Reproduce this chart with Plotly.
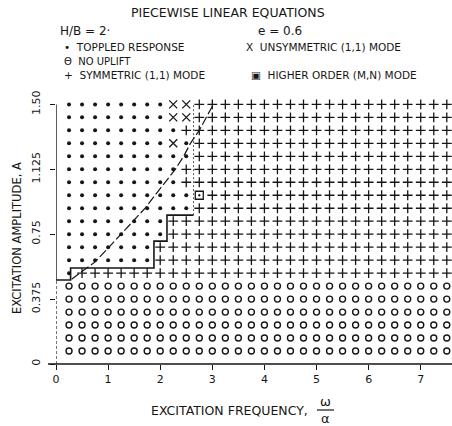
import plotly.graph_objects as go

# ---------------- data ----------------
frequencies = [0.25 * i for i in range(1, 31)]          # 0.25 ... 7.5
amplitudes = [round(0.075 * j, 3) for j in range(1, 21)]  # 0.075 ... 1.5

no_uplift_max_amp = 0.45  # rows at or below: no uplift

# rows above the no-uplift band: last frequency of toppled response
toppled_rows = [0.525, 0.6, 0.675, 0.75, 0.825, 0.9, 0.975, 1.05, 1.125, 1.2, 1.275, 1.35, 1.425, 1.5]
toppled_last = [0.25, 1.75, 1.75, 2.0, 2.0, 2.5, 2.5, 2.25, 2.25, 2.5, 2.5, 2.25, 2.0, 2.0]

unsym_freq = [2.25, 2.25, 2.5, 2.25, 2.5]
unsym_amp = [1.275, 1.425, 1.425, 1.5, 1.5]

higher_freq = [2.75]
higher_amp = [0.975]

# boundary curves
stair_freq = [0.0, 0.28, 0.28, 1.88, 1.88, 2.13, 2.13, 2.64]
stair_amp = [0.485, 0.485, 0.555, 0.555, 0.71, 0.71, 0.86, 0.86]
dotted_freq = [2.64, 2.64]
dotted_amp = [0.86, 1.5]
lower_axis_amp = [0.0, 0.485]
diag_freq = [0.3, 0.75, 1.0, 1.4, 1.71, 1.9, 2.1, 2.29, 2.45, 2.58, 2.75, 2.88, 3.02]
diag_amp = [0.49, 0.59, 0.67, 0.80, 0.90, 0.975, 1.05, 1.125, 1.2, 1.275, 1.35, 1.425, 1.5]

x_tick_vals = [0, 1, 2, 3, 4, 5, 6, 7]
x_tick_text = ["0", "1", "2", "3", "4", "5", "6", "7"]
y_tick_vals = [0, 0.375, 0.75, 1.125, 1.5]
y_tick_text = ["0", "0.375", "0.75", "1.125", "1.50"]

# ---------------- classify grid ----------------
special = set(zip(unsym_freq, unsym_amp)) | set(zip(higher_freq, higher_amp))
top_f, top_a, nu_f, nu_a, sym_f, sym_a = [], [], [], [], [], []
for a in amplitudes:
    for f in frequencies:
        if (f, a) in special:
            continue
        if a <= no_uplift_max_amp + 1e-9:
            nu_f.append(f); nu_a.append(a)
            continue
        idx = min(range(len(toppled_rows)), key=lambda k: abs(toppled_rows[k] - a))
        if f <= toppled_last[idx] + 1e-9:
            top_f.append(f); top_a.append(a)
        else:
            sym_f.append(f); sym_a.append(a)

INK = "#161616"
fig = go.Figure()
fig.add_trace(go.Scatter(x=stair_freq, y=stair_amp, mode="lines",
                         line=dict(color=INK, width=1.6), hoverinfo="skip"))
fig.add_trace(go.Scatter(x=[0, 0], y=lower_axis_amp, mode="lines",
                         line=dict(color=INK, width=1.2, dash="3px,2px"), hoverinfo="skip"))
fig.add_trace(go.Scatter(x=dotted_freq, y=dotted_amp, mode="lines",
                         line=dict(color="#555", width=1, dash="2px,2px"), hoverinfo="skip"))
fig.add_trace(go.Scatter(x=diag_freq, y=diag_amp, mode="lines",
                         line=dict(color=INK, width=1.2, dash="9px,3px"), hoverinfo="skip"))
fig.add_trace(go.Scatter(x=top_f, y=top_a, mode="markers",
                         marker=dict(symbol="circle", size=4, color=INK)))
fig.add_trace(go.Scatter(x=nu_f, y=nu_a, mode="markers",
                         marker=dict(symbol="circle-open", size=6, color=INK, line=dict(width=1.4))))
fig.add_trace(go.Scatter(x=sym_f, y=sym_a, mode="markers",
                         marker=dict(symbol="cross-thin", size=7, color=INK, line=dict(width=1.3, color=INK))))
fig.add_trace(go.Scatter(x=unsym_freq, y=unsym_amp, mode="markers",
                         marker=dict(symbol="x-thin", size=8, color=INK, line=dict(width=1.3, color=INK))))
fig.add_trace(go.Scatter(x=higher_freq, y=higher_amp, mode="markers",
                         marker=dict(symbol="square-open-dot", size=8, color=INK, line=dict(width=1.3))))

W, H = 452, 426
L, R, T, B = 56, 0, 94, 62
PW, PH = W - L - R, H - T - B
def px(x):
    return (x - L) / PW
def py(y):
    return (H - B - y) / PH

FONT = "DejaVu Sans"
ann = []
def text(x, y, s, size=10.5, anchor="left", angle=0):
    ann.append(dict(x=px(x), y=py(y), xref="paper", yref="paper", text=s, showarrow=False,
                    xanchor=anchor, yanchor="middle", textangle=angle,
                    font=dict(family=FONT, size=size, color=INK)))

text(228, 13, "PIECEWISE LINEAR EQUATIONS", size=12.5, anchor="center")
text(58, 31, "H/B = 2·", size=12)
text(256, 31, "e = 0.6", size=12)
text(62, 47, "•  TOPPLED RESPONSE")
text(62, 61, "Θ  NO UPLIFT", size=10)
text(62, 75, "+  SYMMETRIC (1,1) MODE")
text(244, 47, "X  UNSYMMETRIC (1,1) MODE")
text(249, 75, "▣  HIGHER ORDER (M,N) MODE")
text(17, 238, "EXCITATION AMPLITUDE, A", size=11.5, anchor="center", angle=-90)
text(229, 410, "EXCITATION FREQUENCY,", size=12.5, anchor="center")
text(325, 401, "ω", size=13, anchor="center")
text(325, 418, "α", size=13, anchor="center")

shapes = [
    dict(type="line", xref="paper", yref="paper", x0=px(48), x1=px(452), y0=0, y1=0,
         line=dict(color=INK, width=1.4)),
    dict(type="line", xref="x", yref="y", x0=0, x1=0, y0=0.485, y1=1.5,
         line=dict(color=INK, width=1.4)),
    dict(type="line", xref="paper", yref="paper", x0=px(317), x1=px(334), y0=py(410), y1=py(410),
         line=dict(color=INK, width=1.2)),
]

fig.update_layout(
    width=W, height=H, margin=dict(l=L, r=R, t=T, b=B, autoexpand=False),
    paper_bgcolor="white", plot_bgcolor="white", showlegend=False,
    annotations=ann, shapes=shapes,
    xaxis=dict(range=[0, 7.6], showgrid=False, zeroline=False, showline=False,
               tickvals=x_tick_vals, ticktext=x_tick_text, ticks="outside", ticklen=5,
               tickwidth=1.2, tickcolor=INK, tickfont=dict(family=FONT, size=11, color=INK)),
    yaxis=dict(range=[0, 1.56], showgrid=False, zeroline=False, showline=False,
               tickvals=y_tick_vals, ticktext=y_tick_text, ticks="outside", ticklen=5,
               tickwidth=1.2, tickcolor=INK, tickangle=-90, ticklabelstandoff=6,
               tickfont=dict(family=FONT, size=11, color=INK)),
)
fig.write_html("out.html", config={"displayModeBar": False},
               post_script="document.body.style.margin='0';")
